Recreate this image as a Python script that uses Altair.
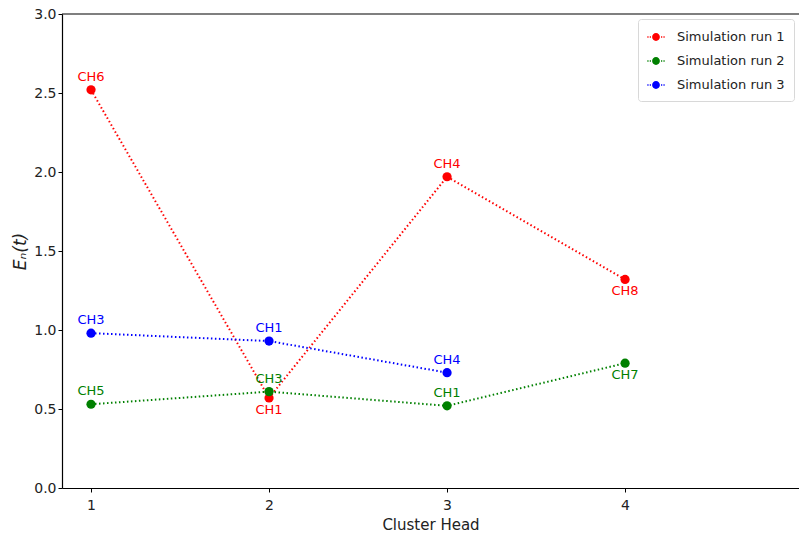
import altair as alt
import pandas as pd

x_vals = [1, 2, 3, 4]
run1 = [2.52, 0.57, 1.97, 1.32]
run2 = [0.53, 0.61, 0.52, 0.79]
run3 = [0.98, 0.93, 0.73]
lab1 = ["CH6", "CH1", "CH4", "CH8"]
lab2 = ["CH5", "CH3", "CH1", "CH7"]
lab3 = ["CH3", "CH1", "CH4"]
side1 = ["above", "below", "above", "below"]
side2 = ["above", "above", "above", "below"]
side3 = ["above", "above", "above"]
series = ["Simulation run 1", "Simulation run 2", "Simulation run 3"]
colors = ["#ff0000", "#008000", "#0000ff"]

rows = []
for name, ys, labs, sides in zip(series, [run1, run2, run3], [lab1, lab2, lab3], [side1, side2, side3]):
    for x, y, l, s in zip(x_vals, ys, labs, sides):
        rows.append({"x": x, "y": y, "series": name, "label": l, "side": s})
df = pd.DataFrame(rows)

font = "DejaVu Sans"
xs = alt.Scale(domain=[0.837, 4.977], nice=False, zero=False)
ys_ = alt.Scale(domain=[0, 3.0], nice=False)
col = alt.Scale(domain=series, range=colors)

sym = ("M-0.45,0A0.45,0.45 0 1,1 0.45,0A0.45,0.45 0 1,1 -0.45,0Z"
       "M-1.0,-0.08L-0.86,-0.08L-0.86,0.08L-1.0,0.08Z"
       "M-0.72,-0.08L-0.58,-0.08L-0.58,0.08L-0.72,0.08Z"
       "M0.58,-0.08L0.72,-0.08L0.72,0.08L0.58,0.08Z"
       "M0.86,-0.08L1.0,-0.08L1.0,0.08L0.86,0.08Z")

legend = alt.Legend(orient="top-right", symbolType=sym, symbolSize=300,
                    labelFontSize=13, labelFont=font, rowPadding=8, labelOffset=12,
                    strokeColor="#d8d8d8", cornerRadius=3, padding=9,
                    fillColor="white", offset=5, symbolOpacity=1, symbolStrokeWidth=0,
                    labelColor="#222")
C = alt.Color("series:N", scale=col, title=None, legend=legend)

base = alt.Chart(df)
X = alt.X("x:Q", scale=xs,
          axis=alt.Axis(values=x_vals, title="Cluster Head", format="d", grid=False,
                        tickSize=4, labelPadding=6, titlePadding=5))
Y = alt.Y("y:Q", scale=ys_,
          axis=alt.Axis(values=[0, 0.5, 1.0, 1.5, 2.0, 2.5, 3.0], format=".1f", title="Eₙ(t)",
                        grid=False, tickSize=4, titleFontStyle="italic", titleFontSize=17,
                        titlePadding=4))

lines = base.mark_line(strokeDash=[1.5, 2.5], strokeWidth=2).encode(
    x=X, y=Y, color=C, detail="series:N")
points = base.mark_point(filled=True, opacity=1, size=85).encode(x=X, y=Y, color=C)
above = base.mark_text(baseline="bottom", dy=-6, fontSize=13, font=font).encode(
    x=X, y=Y, text="label:N", color=C
).transform_filter(alt.datum.side == "above")
below = base.mark_text(baseline="top", dy=6, fontSize=13, font=font).encode(
    x=X, y=Y, text="label:N", color=C
).transform_filter(alt.datum.side == "below")
top_rule = alt.Chart(pd.DataFrame({"t": [3.0]})).mark_rule(color="black", strokeWidth=1.2).encode(
    y=alt.Y("t:Q", scale=ys_))

chart = alt.layer(top_rule, lines, points, above, below).properties(
    width=737, height=474,
    autosize=alt.AutoSizeParams(type="none"),
    padding={"left": 62, "top": 14, "right": 0, "bottom": 55},
).configure_view(stroke=None).configure_axis(
    domainColor="black", domainWidth=1.2, tickColor="black", labelColor="#222",
    labelFontSize=14, labelFont=font, titleFont=font, titleFontWeight="normal",
    titleFontSize=15, titleColor="#222"
)

chart.save("out.html", embed_options={"renderer": "svg", "actions": False})
